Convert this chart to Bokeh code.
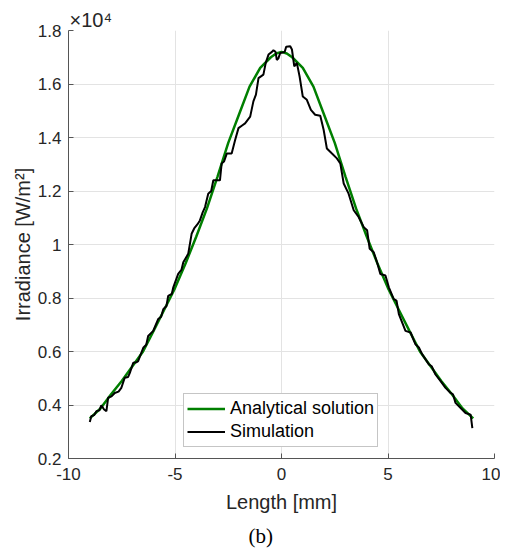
from bokeh.plotting import figure
from bokeh.models import FixedTicker, Legend, LegendItem, Title
from bokeh.embed import file_html
from bokeh.resources import INLINE

# Irradiance values are in units of 1e4 W/m^2 (axis shows x10^4)
analytical_x = [-9.0, -8.5, -8.0, -7.5, -7.0, -6.5, -6.0, -5.5, -5.0, -4.5, -4.0, -3.5,
                -3.0, -2.5, -2.0, -1.5, -1.0, -0.5, -0.25, 0.0, 0.25, 0.5, 1.0, 1.5,
                2.0, 2.5, 3.0, 3.5, 4.0, 4.5, 5.0, 5.5, 6.0, 6.5, 7.0, 7.5, 8.0, 8.5, 9.0]
analytical_y = [0.350, 0.387, 0.440, 0.490, 0.545, 0.600, 0.678, 0.757, 0.837, 0.930, 1.030, 1.135,
                1.255, 1.380, 1.485, 1.590, 1.660, 1.700, 1.714, 1.720, 1.714, 1.700, 1.660, 1.590,
                1.485, 1.380, 1.255, 1.135, 1.030, 0.930, 0.837, 0.757, 0.678, 0.600, 0.545, 0.490, 0.440, 0.387, 0.350]

simulation_x = [-9.00, -8.93, -8.80, -8.69, -8.55, -8.46, -8.33, -8.22, -8.14, -7.98, -7.83, -7.65,
                -7.52, -7.36, -7.20, -7.12, -6.96, -6.80, -6.73, -6.49, -6.35, -6.26, -6.02, -5.90,
                -5.79, -5.65, -5.55, -5.40, -5.32, -5.15, -5.08, -4.85, -4.70, -4.61, -4.38, -4.22,
                -4.10, -3.95, -3.83, -3.70, -3.59, -3.44, -3.30, -3.20, -2.89, -2.81, -2.70, -2.57,
                -2.34, -2.18, -2.02, -1.85, -1.71, -1.47, -1.32, -1.20, -1.08, -0.85, -0.74, -0.61,
                -0.45, -0.38, -0.28, -0.22, -0.15, -0.06, 0.05, 0.15, 0.22, 0.41, 0.49, 0.60,
                0.72, 0.85, 1.00, 1.19, 1.38, 1.58, 1.82, 1.98, 2.13, 2.37, 2.60, 2.76,
                2.92, 3.15, 3.39, 3.62, 3.86, 4.02, 4.14, 4.33, 4.50, 4.64, 4.88, 5.04,
                5.27, 5.40, 5.51, 5.82, 6.06, 6.29, 6.45, 6.60, 6.92, 7.05, 7.23, 7.47,
                7.70, 7.94, 8.05, 8.17, 8.41, 8.64, 8.88, 8.96]
simulation_y = [0.336, 0.358, 0.362, 0.377, 0.380, 0.399, 0.383, 0.377, 0.427, 0.432, 0.445, 0.450,
                0.464, 0.502, 0.505, 0.520, 0.558, 0.560, 0.564, 0.614, 0.625, 0.658, 0.677, 0.700,
                0.721, 0.730, 0.758, 0.770, 0.808, 0.815, 0.840, 0.890, 0.905, 0.934, 0.965, 1.040,
                1.060, 1.075, 1.090, 1.120, 1.140, 1.190, 1.200, 1.240, 1.240, 1.303, 1.310, 1.340,
                1.340, 1.390, 1.435, 1.445, 1.453, 1.478, 1.535, 1.560, 1.622, 1.635, 1.679, 1.710,
                1.720, 1.726, 1.720, 1.690, 1.695, 1.716, 1.718, 1.720, 1.739, 1.741, 1.729, 1.666,
                1.679, 1.628, 1.553, 1.541, 1.503, 1.485, 1.481, 1.428, 1.359, 1.340, 1.322, 1.303,
                1.228, 1.190, 1.128, 1.103, 1.065, 1.053, 0.984, 0.971, 0.930, 0.890, 0.884, 0.840,
                0.796, 0.790, 0.740, 0.677, 0.671, 0.627, 0.615, 0.590, 0.552, 0.545, 0.514, 0.489,
                0.464, 0.445, 0.440, 0.408, 0.389, 0.370, 0.364, 0.314]

x_ticks = [-10, -5, 0, 5, 10]
x_tick_labels = ["-10", "-5", "0", "5", "10"]
y_ticks = [0.2, 0.4, 0.6, 0.8, 1.0, 1.2, 1.4, 1.6, 1.8]
y_tick_labels = ["0.2", "0.4", "0.6", "0.8", "1", "1.2", "1.4", "1.6", "1.8"]

FONT = "Liberation Sans"
TXT = "#262626"

p = figure(width=500, height=553, x_range=(-10, 10), y_range=(0.2, 1.8),
           output_backend="svg", toolbar_location=None,
           min_border_left=68, min_border_right=6, min_border_top=30, min_border_bottom=60)
p.outline_line_color = None

for ax in (p.xaxis[0], p.yaxis[0]):
    ax.axis_line_color = "#555555"
    ax.major_tick_line_color = "#555555"
    ax.major_tick_in = 5
    ax.major_tick_out = 0
    ax.minor_tick_line_color = None
    ax.major_label_text_font = FONT
    ax.major_label_text_font_size = "17px"
    ax.major_label_text_color = TXT
    ax.axis_label_text_font = FONT
    ax.axis_label_text_font_size = "20px"
    ax.axis_label_text_font_style = "normal"
    ax.axis_label_text_color = TXT

p.xaxis.ticker = FixedTicker(ticks=x_ticks)
p.yaxis.ticker = FixedTicker(ticks=y_ticks)
p.xaxis.major_label_overrides = {t: l for t, l in zip(x_ticks, x_tick_labels)}
p.yaxis.major_label_overrides = {t: l for t, l in zip(y_ticks, y_tick_labels)}
p.xaxis.major_label_standoff = 9
p.yaxis.major_label_standoff = 7
p.xaxis.axis_label = "Length [mm]"
p.yaxis.axis_label = "Irradiance [W/m\u00b2]"
p.xaxis.axis_label_standoff = 8
p.yaxis.axis_label_standoff = 1

p.xgrid.ticker = FixedTicker(ticks=x_ticks)
p.ygrid.ticker = FixedTicker(ticks=y_ticks)
p.grid.grid_line_color = "#e3e3e3"
p.grid.grid_line_width = 1

g = p.line(analytical_x, analytical_y, line_color="#007f00", line_width=2.5)
s = p.line(simulation_x, simulation_y, line_color="#000000", line_width=2)

legend = Legend(items=[LegendItem(label="Analytical solution", renderers=[g]),
                       LegendItem(label="Simulation", renderers=[s])],
                location=(115, 11), orientation="vertical")
legend.label_text_font = FONT
legend.label_text_font_size = "18px"
legend.label_text_color = "#000000"
legend.border_line_color = "#8c8c8c"
legend.border_line_width = 1
legend.background_fill_color = "white"
legend.background_fill_alpha = 1
legend.padding = 3
legend.spacing = 0
legend.margin = 0
legend.glyph_width = 38
legend.glyph_height = 23
legend.label_height = 23
legend.label_standoff = 5
p.add_layout(legend)

p.add_layout(Title(text="\u00d710\u2074", align="left", offset=1, text_font=FONT,
                   text_font_size="20px", text_font_style="normal", text_color=TXT,
                   standoff=0), "above")

p.add_layout(Title(text="(b)", align="left", offset=180, text_font="Liberation Serif",
                   text_font_size="21px", text_font_style="normal", text_color="#000000",
                   standoff=12), "below")

open("out.html", "w").write(file_html(p, INLINE))
